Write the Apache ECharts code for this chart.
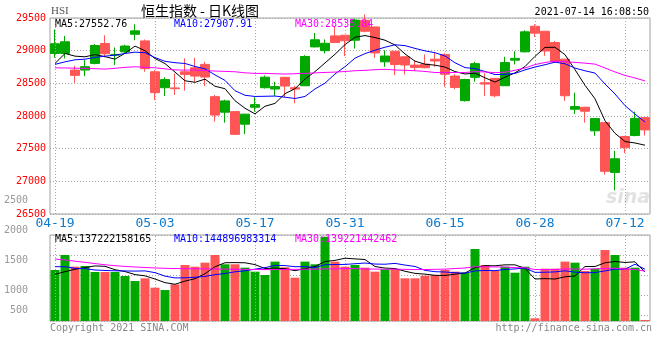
<!DOCTYPE html>
<html><head><meta charset="utf-8">
<script src="https://cdn.jsdelivr.net/npm/echarts@6/dist/echarts.min.js"></script>
<style>html,body{margin:0;padding:0;background:#fff}#c{width:660px;height:360px}</style>
</head><body><div id="c"></div>
<script>
const dates = ['04-19','04-20','04-21','04-22','04-23','04-26','04-27','04-28','04-29','04-30',
'05-03','05-04','05-05','05-06','05-07','05-10','05-11','05-12','05-13','05-14','05-17','05-18','05-20','05-21','05-24','05-25','05-26','05-27','05-28','05-31',
'06-01','06-02','06-03','06-04','06-07','06-08','06-09','06-10','06-11','06-15','06-16','06-17','06-18','06-21','06-22','06-23','06-24','06-25','06-28','06-29','06-30',
'07-02','07-05','07-06','07-07','07-08','07-09','07-12','07-13','07-14'];
const tickDates = ['04-19','05-03','05-17','05-31','06-15','06-28','07-12'];
const opens = [28957,28957,28703,28703,28805,29110,28930,28982,29251,29149,
28677,28433,28430,28677,28738,28790,28296,28058,28067,27875,
28134,28433,28413,28592,28433,28463,29058,29000,29226,29236,
29160,29465,29363,28829,28992,28906,28779,28794,28870,28942,
28611,28235,28592,28509,28576,28463,28855,28982,29373,29297,
29125,28870,28104,28134,27773,27899,27137,27686,27701,27975];
const closes = [29106,29136,28622,28755,29079,28953,28942,29071,29303,28725,
28358,28557,28418,28637,28611,28596,28014,28231,27719,28028,
28174,28594,28450,28458,28412,28911,29166,29113,29124,29152,
29468,29297,28966,28918,28787,28781,28742,28739,28842,28639,
28437,28559,28801,28489,28310,28817,28882,29288,29268,28995,
28828,28310,28144,28073,27961,27153,27345,27515,27963,27787];
const lows = [28893,28881,28509,28611,28790,28896,28779,28960,29160,28677,
28245,28306,28322,28387,28524,28459,27915,27899,27712,27723,
28067,28420,28306,28287,28195,28460,29049,28957,29120,28916,
29033,29280,28890,28753,28626,28637,28688,28730,28753,28448,
28409,28220,28524,28306,28287,28460,28790,28973,29210,28921,
28820,28230,28032,27899,27697,27102,26863,27433,27690,27701];
const highs = [29323,29226,28768,28855,29100,29236,29049,29090,29404,29171,
28703,28592,28652,28881,28890,28829,28322,28250,28075,28035,
28287,28620,28524,28600,28463,28931,29271,29171,29363,29240,
29490,29556,29370,29008,28995,28910,28855,28942,28966,28960,
28640,28570,28829,28652,28580,28906,28992,29312,29404,29300,
29149,28875,28357,28140,27970,27905,27468,27690,28067,27980];
const ma5 = [28805,28957,28916,28906,28940,28909,28870,28960,29070,28999,
28880,28803,28672,28539,28516,28564,28455,28418,28234,28118,
28033,28149,28193,28341,28418,28565,28679,28812,28945,29093,
29205,29231,29201,29160,29087,28950,28839,28793,28778,28749,
28680,28643,28656,28585,28519,28595,28660,28757,28913,29050,
29052,28938,28709,28470,28263,27928,27735,27609,27587,27553];
const ma10 = [28790,28829,28860,28870,28896,28916,28931,28957,28977,28969,
28894,28837,28816,28804,28758,28722,28629,28545,28387,28317,
28299,28302,28305,28288,28268,28299,28414,28503,28643,28755,
28885,28955,29007,29053,29090,29077,29035,28997,28969,28918,
28815,28741,28725,28682,28634,28638,28652,28706,28749,28785,
28824,28799,28733,28692,28657,28490,28337,28159,28029,27908];
const ma30 = [28738,28735,28732,28729,28724,28718,28730,28745,28753,28745,
28738,28722,28705,28703,28703,28696,28688,28683,28677,28661,
28652,28652,28647,28642,28647,28652,28660,28667,28672,28681,
28693,28698,28709,28715,28705,28699,28693,28682,28666,28663,
28666,28666,28679,28674,28664,28671,28700,28735,28787,28819,
28841,28832,28821,28809,28794,28735,28674,28621,28582,28537];
const vols = [1368,1617,1423,1435,1335,1335,1335,1268,1185,1230,
1074,1035,1130,1451,1423,1490,1617,1463,1463,1407,
1340,1285,1507,1413,1240,1507,1463,1922,1507,1423,
1451,1407,1340,1380,1380,1230,1230,1273,1285,1368,
1340,1323,1717,1451,1357,1423,1323,1423,565,1390,
1390,1507,1490,1351,1390,1701,1617,1407,1407,537];
const vma5 = [1296,1340,1380,1407,1436,1429,1373,1342,1292,1271,
1218,1158,1131,1184,1223,1306,1422,1489,1491,1488,
1458,1392,1400,1390,1357,1390,1426,1509,1528,1564,
1553,1542,1426,1400,1392,1347,1312,1299,1280,1277,
1299,1318,1407,1440,1438,1454,1454,1395,1218,1225,
1218,1255,1268,1426,1426,1488,1510,1493,1504,1334];
const vma10 = [1423,1423,1396,1390,1368,1360,1355,1352,1350,1353,
1324,1266,1236,1238,1247,1262,1290,1310,1338,1355,
1382,1407,1445,1441,1423,1424,1409,1455,1459,1461,
1472,1484,1467,1464,1478,1450,1427,1362,1340,1334,
1323,1315,1353,1360,1357,1377,1386,1401,1329,1331,
1336,1355,1332,1322,1325,1353,1382,1381,1465,1380];
const vma30 = [1550,1535,1515,1495,1475,1455,1440,1428,1418,1410,
1402,1396,1392,1390,1388,1386,1384,1382,1380,1378,
1376,1375,1375,1377,1379,1381,1383,1386,1388,1390,
1392,1385,1383,1381,1382,1379,1375,1376,1379,1383,
1392,1402,1422,1422,1419,1417,1407,1406,1376,1375,
1377,1385,1384,1382,1387,1393,1398,1381,1378,1348];
const priceLegend = ['MA5:27552.76','MA10:27907.91','MA30:28535.84'];
const volLegend = ['MA5:137222158165','MA10:144896983314','MA30:139221442462'];
const titleText = '恒生指数 - 日K线图';
const codeText = 'HSI';
const timeText = '2021-07-14 16:08:50';
const footLeft = 'Copyright 2021 SINA.COM';
const footRight = 'http://finance.sina.com.cn';

const UP = '#00a800', DOWN = '#ff5555';
const MONO = '"DejaVu Sans Mono", monospace';
const dotted = {color:'#a8a8a8', type:[1,2], width:1};
const vLines = {silent:true, symbol:'none', label:{show:false}, lineStyle:dotted,
  data: tickDates.map(d => ({xAxis: d})), animation:false};

const chart = echarts.init(document.getElementById('c'));
const L = 50, W = 600;
chart.setOption({
  animation:false,
  backgroundColor:'#fff',
  grid:[
    {left:L, width:W, top:18, height:196, show:true, borderColor:'#a0a0a0', borderWidth:1, outerBoundsMode:'none'},
    {left:L, width:W, top:235, height:86, show:true, borderColor:'#a0a0a0', borderWidth:1, outerBoundsMode:'none'},
    {left:L, width:W, top:200, height:120, show:false, outerBoundsMode:'none'}
  ],
  xAxis:[
    {type:'category', gridIndex:0, data:dates, boundaryGap:true,
     axisLine:{show:false}, axisTick:{show:false}, splitLine:{show:false},
     axisLabel:{color:'#0a7bd0', fontFamily:MONO, fontSize:13, margin:3,
       interval:(i, v) => tickDates.indexOf(v) >= 0}},
    {type:'category', gridIndex:1, data:dates, boundaryGap:true, show:false},
    {type:'category', gridIndex:2, data:dates, show:false}
  ],
  yAxis:[
    {type:'value', gridIndex:0, min:26500, max:29500, interval:500, scale:true,
     axisLine:{show:false}, axisTick:{show:false},
     axisLabel:{color:'#ff0000', fontFamily:MONO, fontSize:10, margin:4, padding:[0,0,4,0],
       showMinLabel:true, showMaxLabel:true, formatter:v => String(v)},
     splitLine:{show:true, lineStyle:dotted}},
    {type:'value', gridIndex:1, min:520, max:1950, show:true,
     axisLine:{show:false}, axisTick:{show:false}, axisLabel:{show:false}, splitLine:{show:false}},
    {type:'value', gridIndex:2, min:500, max:2500, interval:500,
     axisLine:{show:false}, axisTick:{show:false}, splitLine:{show:false},
     axisLabel:{color:'#999', fontFamily:MONO, fontSize:10, margin:22, showMinLabel:true, showMaxLabel:true,
       formatter:v => v === 500 ? '{s|500}' : String(v),
       rich:{s:{color:'#999', fontFamily:MONO, fontSize:10, padding:[0,0,20,0]}}}},
    {type:'value', gridIndex:1, inverse:true, min:0, max:4.3, interval:1,
     axisLine:{show:false}, axisTick:{show:false}, axisLabel:{show:false},
     splitLine:{show:true, lineStyle:dotted}}
  ],
  graphic:[
    {type:'text', left:606, top:189, z:0, style:{text:'sina', fill:'#e2e2e2', font:'italic bold 19px "DejaVu Sans"'}},
    {type:'text', x:51, y:11, style:{text:codeText, fill:'#555', font:'11px "Liberation Serif"', textVerticalAlign:'middle'}},
    {type:'text', x:200, y:11, style:{text:titleText, fill:'#000', font:'14px "Noto Sans CJK SC"', textAlign:'center', textVerticalAlign:'middle'}},
    {type:'text', x:649, y:12, style:{text:timeText, fill:'#000', font:'10px ' + MONO, textAlign:'right', textVerticalAlign:'middle'}},
    {type:'text', x:55, y:24, z:100, style:{text:priceLegend[0], fill:'#000', font:'10px ' + MONO, textVerticalAlign:'middle'}},
    {type:'text', x:174, y:24, z:100, style:{text:priceLegend[1], fill:'#0000ff', font:'10px ' + MONO, textVerticalAlign:'middle'}},
    {type:'text', x:295, y:24, z:100, style:{text:priceLegend[2], fill:'#ff00ff', font:'10px ' + MONO, textVerticalAlign:'middle'}},
    {type:'text', x:55, y:239, z:100, style:{text:volLegend[0], fill:'#000', font:'10px ' + MONO, textVerticalAlign:'middle'}},
    {type:'text', x:174, y:239, z:100, style:{text:volLegend[1], fill:'#0000ff', font:'10px ' + MONO, textVerticalAlign:'middle'}},
    {type:'text', x:295, y:239, z:100, style:{text:volLegend[2], fill:'#ff00ff', font:'10px ' + MONO, textVerticalAlign:'middle'}},
    {type:'text', x:50, y:328, style:{text:footLeft, fill:'#888', font:'10px ' + MONO, textVerticalAlign:'middle'}},
    {type:'text', x:652, y:328, style:{text:footRight, fill:'#888', font:'10px ' + MONO, textAlign:'right', textVerticalAlign:'middle'}}
  ],
  series:[
    {type:'candlestick', xAxisIndex:0, yAxisIndex:0, barWidth:9,
     data: dates.map((d,i) => [opens[i], closes[i], lows[i], highs[i]]),
     itemStyle:{color:UP, color0:DOWN, borderColor:UP, borderColor0:DOWN, borderWidth:1},
     markLine: vLines},
    {type:'line', xAxisIndex:0, yAxisIndex:0, data:ma5, symbol:'none', lineStyle:{color:'#000', width:1}, z:5},
    {type:'line', xAxisIndex:0, yAxisIndex:0, data:ma10, symbol:'none', lineStyle:{color:'#0000ff', width:1}, z:5},
    {type:'line', xAxisIndex:0, yAxisIndex:0, data:ma30, symbol:'none', lineStyle:{color:'#ff00ff', width:1}, z:5},
    {type:'bar', xAxisIndex:1, yAxisIndex:1, barWidth:9, clip:true,
     data: vols.map((v,i) => ({value:v, itemStyle:{color: closes[i] >= opens[i] ? UP : DOWN}})),
     markLine: vLines},
    {type:'line', xAxisIndex:1, yAxisIndex:1, data:vma5, symbol:'none', lineStyle:{color:'#000', width:1}, z:5},
    {type:'line', xAxisIndex:1, yAxisIndex:1, data:vma10, symbol:'none', lineStyle:{color:'#0000ff', width:1}, z:5},
    {type:'line', xAxisIndex:1, yAxisIndex:1, data:vma30, symbol:'none', lineStyle:{color:'#ff00ff', width:1}, z:5}
  ]
});
</script></body></html>
